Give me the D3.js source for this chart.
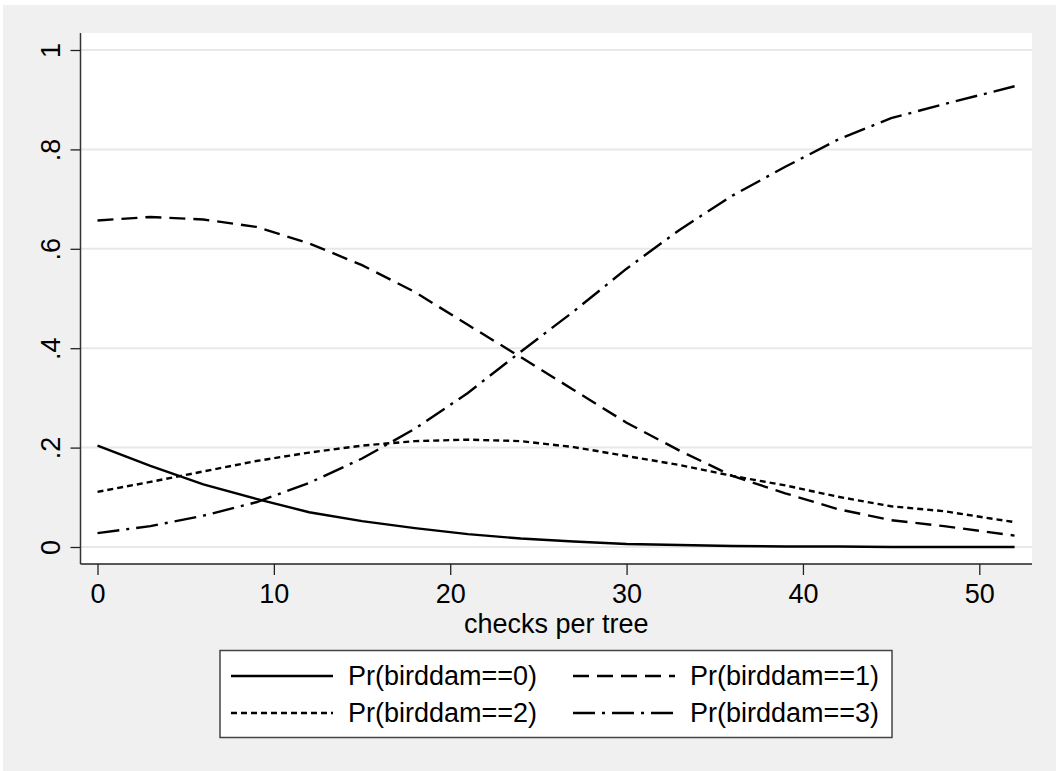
<!DOCTYPE html>
<html>
<head>
<meta charset="utf-8">
<script src="https://cdn.jsdelivr.net/npm/d3@7"></script>
<style>
  body { margin: 0; background: #fff; }
  text { font-family: "Liberation Sans", Arial, sans-serif; fill: #000; }
</style>
</head>
<body>
<svg id="chart" width="1056" height="771"></svg>
<script>
// values
const checks = [0, 3, 6, 9, 12, 15, 18, 21, 24, 27, 30, 33, 36, 39, 42, 45, 48, 52];
const pr0 = [0.204, 0.163, 0.126, 0.097, 0.070, 0.052, 0.038, 0.026, 0.017, 0.011, 0.006, 0.004, 0.002, 0.001, 0.001, 0.000, 0.000, 0.000];
const pr1 = [0.657, 0.664, 0.659, 0.644, 0.611, 0.567, 0.513, 0.447, 0.382, 0.316, 0.250, 0.194, 0.143, 0.108, 0.076, 0.054, 0.042, 0.023];
const pr2 = [0.111, 0.131, 0.152, 0.173, 0.190, 0.204, 0.213, 0.216, 0.213, 0.201, 0.183, 0.165, 0.143, 0.124, 0.101, 0.082, 0.072, 0.050];
const pr3 = [0.028, 0.042, 0.063, 0.090, 0.129, 0.178, 0.238, 0.310, 0.393, 0.474, 0.560, 0.638, 0.707, 0.765, 0.820, 0.863, 0.891, 0.927];

const seriesNames = ["Pr(birddam==0)", "Pr(birddam==1)", "Pr(birddam==2)", "Pr(birddam==3)"];
const xTicks = [0, 10, 20, 30, 40, 50];
const yTicks = [0, 0.2, 0.4, 0.6, 0.8, 1];
const yTickLabels = ["0", ".2", ".4", ".6", ".8", "1"];
const xTitle = "checks per tree";

const dashes = ["none", "16,8", "6,4", "22,7,3,7"];
const series = [pr0, pr1, pr2, pr3].map((v, k) => ({
  name: seriesNames[k],
  dash: dashes[k],
  points: checks.map((c, i) => ({ x: c, y: v[i] }))
}));

const svg = d3.select("#chart");
const fontSize = 27;

// plot region
const plot = { left: 80.5, right: 1032, top: 33, bottom: 564 };

const x = d3.scaleLinear().domain([0, 50]).range([97.5, 979.3]);
const y = d3.scaleLinear().domain([0, 1]).range([547, 50]);

// backgrounds
svg.append("rect")
  .attr("x", 3).attr("y", 5)
  .attr("width", 1053).attr("height", 766)
  .style("fill", "#f0f0f0");

svg.append("rect")
  .attr("x", plot.left).attr("y", plot.top)
  .attr("width", plot.right - plot.left).attr("height", plot.bottom - plot.top)
  .style("fill", "#fff");

// gridlines
svg.append("g")
  .selectAll("line")
  .data(yTicks)
  .join("line")
  .attr("x1", plot.left).attr("x2", plot.right)
  .attr("y1", d => y(d)).attr("y2", d => y(d))
  .style("stroke", "#e8e8e8")
  .style("stroke-width", 2);

// y axis
const yAxis = svg.append("g")
  .attr("transform", `translate(${plot.left},0)`)
  .call(d3.axisLeft(y)
    .tickValues(yTicks)
    .tickFormat((d, i) => yTickLabels[i])
    .tickSize(10)
    .tickSizeOuter(0));

yAxis.select(".domain").remove();
yAxis.selectAll(".tick line").style("stroke", "#222").style("stroke-width", 1.3);
yAxis.selectAll(".tick text")
  .attr("x", 0).attr("y", -21).attr("dy", 0)
  .attr("transform", "rotate(-90)")
  .attr("text-anchor", "middle")
  .style("font-size", fontSize + "px")
  .style("font-family", "'Liberation Sans', Arial, sans-serif")
  .style("fill", "#000");

// x axis
const xAxis = svg.append("g")
  .attr("transform", `translate(0,${plot.bottom})`)
  .call(d3.axisBottom(x)
    .tickValues(xTicks)
    .tickFormat(d3.format("d"))
    .tickSize(11)
    .tickSizeOuter(0));

xAxis.select(".domain").remove();
xAxis.selectAll(".tick line").style("stroke", "#222").style("stroke-width", 1.3);
xAxis.selectAll(".tick text")
  .attr("y", 39).attr("dy", 0)
  .style("font-size", fontSize + "px")
  .style("font-family", "'Liberation Sans', Arial, sans-serif")
  .style("fill", "#000");

// axis lines
svg.append("line")
  .attr("x1", plot.left).attr("x2", plot.left)
  .attr("y1", plot.top).attr("y2", plot.bottom)
  .style("stroke", "#333").style("stroke-width", 1.5);
svg.append("line")
  .attr("x1", plot.left).attr("x2", plot.right)
  .attr("y1", plot.bottom).attr("y2", plot.bottom)
  .style("stroke", "#222").style("stroke-width", 1.5);

svg.append("text")
  .attr("x", (plot.left + plot.right) / 2)
  .attr("y", 633)
  .attr("text-anchor", "middle")
  .style("font-size", fontSize + "px")
  .text(xTitle);

// curves
const line = d3.line()
  .x(d => x(d.x))
  .y(d => y(d.y));

svg.append("g")
  .selectAll("path")
  .data(series)
  .join("path")
  .attr("d", d => line(d.points))
  .style("fill", "none")
  .style("stroke", "#000")
  .style("stroke-width", 2.4)
  .style("stroke-dasharray", d => d.dash);

// legend
const legend = svg.append("g");
legend.append("rect")
  .attr("x", 220).attr("y", 650.5)
  .attr("width", 672).attr("height", 87)
  .style("fill", "#fff")
  .style("stroke", "#444")
  .style("stroke-width", 1.5);

const colX = [231, 573];
const rowY = [676, 713];

const items = legend.selectAll("g.item")
  .data(series)
  .join("g")
  .attr("class", "item")
  .attr("transform", (d, i) => `translate(${colX[i % 2]},${rowY[Math.floor(i / 2)]})`);

items.append("line")
  .attr("x1", 0).attr("x2", 102)
  .attr("y1", 0).attr("y2", 0)
  .style("stroke", "#000")
  .style("stroke-width", 2.4)
  .style("stroke-dasharray", d => d.dash);

items.append("text")
  .attr("x", 117)
  .attr("y", 0)
  .attr("dy", "0.35em")
  .style("font-size", fontSize + "px")
  .text(d => d.name);
</script>
</body>
</html>
